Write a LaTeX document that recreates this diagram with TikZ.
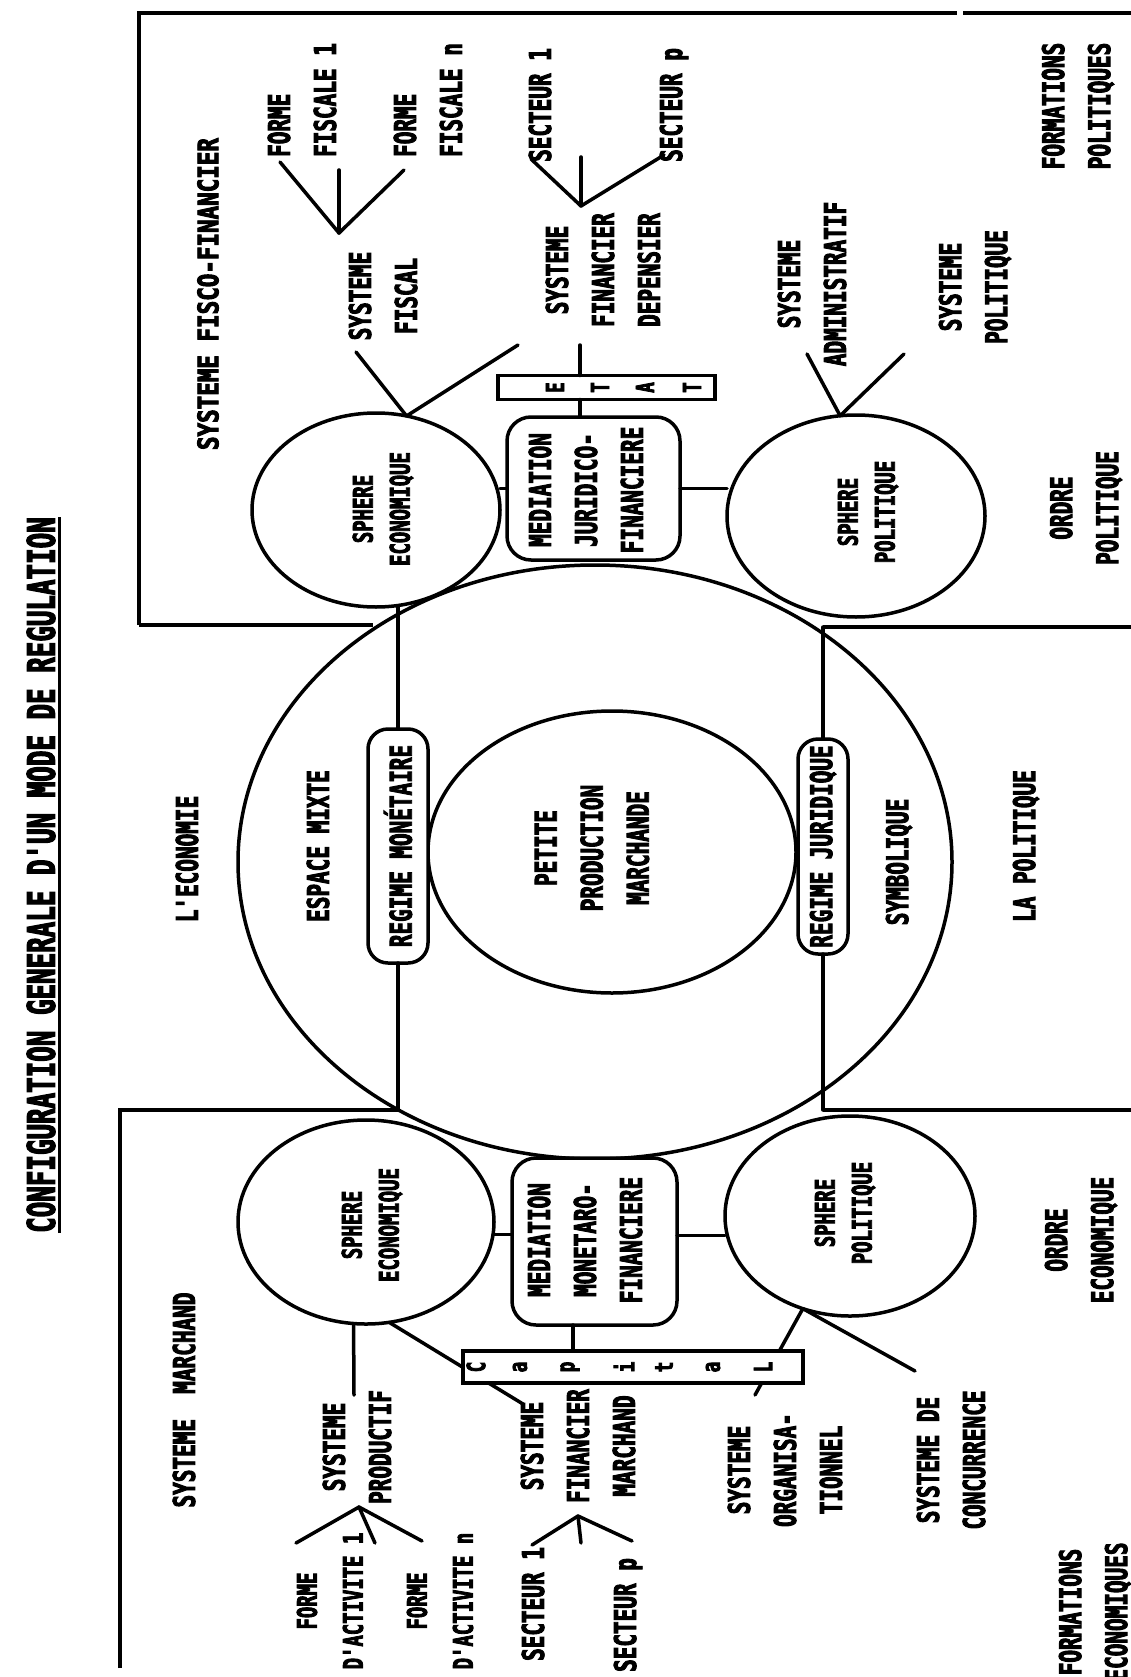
\documentclass[tikz,border=0pt]{standalone}
\usepackage{fontspec}
\usepackage{graphicx}
\usetikzlibrary{shapes.geometric}
\newfontfamily\lab[FakeStretch=0.70,FakeBold=3]{DejaVu Sans Mono}
\newfontfamily\ttl[FakeStretch=0.68,FakeBold=3]{DejaVu Sans Mono}
\begin{document}
\begin{tikzpicture}[x=1pt,y=-1pt,
  ln/.style={line width=3.5pt,line cap=round,line join=round},
  frm/.style={line width=3.6pt},
  txt/.style={rotate=90,align=center,inner sep=0pt,outer sep=0pt,font=\lab\bfseries\fontsize{30}{46}\selectfont},
  stxt/.style={txt,font=\lab\bfseries\fontsize{27}{37}\selectfont},
  ltr/.style={rotate=90,inner sep=0pt,outer sep=0pt,font=\lab\bfseries\fontsize{25}{25}\selectfont},
  sph/.style={draw,ellipse,line width=3.5pt,inner sep=0pt,outer sep=0pt},
  mbox/.style={draw,rounded corners=24pt,line width=3.5pt,fill=white,inner sep=0pt,outer sep=0pt},
  pill/.style={draw,rounded corners=20pt,line width=3.5pt,fill=white,inner sep=0pt,outer sep=0pt},
  lbox/.style={draw,line width=3.3pt,fill=white,inner sep=0pt,outer sep=0pt}]
\useasboundingbox (0,0) rectangle (1131,1677);
\fill[white] (0,0) rectangle (1131,1677);
\clip (0,0) rectangle (1131,1677);

% frames
\draw[frm] (139,625) -- (139,13) -- (957,13);
\draw[frm] (963,13) -- (1131,13);
\draw[frm] (139,625) -- (373,625);
\draw[frm] (823,627) -- (1131,627);
\draw[frm] (120,1668) -- (120,1110) -- (398,1110);
\draw[frm] (823,1110) -- (1131,1110);

% ellipses
\node[sph,minimum width=714pt,minimum height=594pt] (big) at (595,862) {};
\node[sph,minimum width=368pt,minimum height=282pt] (inner) at (612,852) {};
\node[sph,minimum width=248pt,minimum height=194pt] (seT) at (376,510) {};
\node[sph,minimum width=258pt,minimum height=202pt] (spT) at (856,516) {};
\node[sph,minimum width=256pt,minimum height=204pt] (seB) at (366,1222) {};
\node[sph,minimum width=250pt,minimum height=200pt] (spB) at (850,1216) {};

% boxes
\node[mbox,minimum width=173pt,minimum height=143pt] (mjf) at (593.5,488.5) {};
\node[mbox,minimum width=165pt,minimum height=167pt] (mmf) at (594.5,1241.5) {};
\node[pill,minimum width=60pt,minimum height=234pt] (rm) at (398,846) {};
\node[pill,minimum width=50pt,minimum height=215pt] (rj) at (823,846.5) {};
\node[lbox,minimum width=217pt,minimum height=24pt] (etat) at (606.5,387.5) {};

% connectors spheres - mediation boxes
\draw[ln] (mjf.west) -- (mjf.west -| seT.east);
\draw[ln] (mjf.east) -- (mjf.east -| spT.west);
\coordinate (mmfL) at ([yshift=7pt]mmf.west);
\coordinate (mmfR) at ([yshift=6pt]mmf.east);
\draw[ln] (mmfL) -- (mmfL -| seB.east);
\draw[ln] (mmfR) -- (mmfR -| spB.west);

% regime connectors
\coordinate (rmT) at (398,607);
\coordinate (rmB) at (398,1110);
\draw[ln] (rmT) -- (rm);
\draw[ln] (rm) -- (rmB);
\coordinate (rjT) at (823,627);
\coordinate (rjB) at (823,1110);
\draw[ln] (rjT) -- (rj);
\draw[ln] (rj) -- (rjB);

% ETAT connectors
\coordinate (depx) at (580,345);
\draw[ln] (depx) -- (depx |- etat.north);
\draw[ln] (depx |- etat.south) -- (depx |- mjf.north);

% V lines from spheres
\coordinate (vA1) at (356,352);
\coordinate (vA2) at (518,345);
\draw[ln] (vA1) -- (seT.72) -- (vA2);
\coordinate (vB1) at (807,354);
\coordinate (vB2) at (904,354);
\draw[ln] (vB1) -- (spT.99) -- (vB2);
\coordinate (vC1) at (354,1395);
\coordinate (vC2) at (523,1404);
\draw[ln] (seB.263) -- (vC1);
\draw[ln] (seB.283) -- (vC2);
\coordinate (vD1) at (755,1395);
\coordinate (vD2) at (915,1371);
\draw[ln] (vD1) -- (spB.243) -- (vD2);

% Capital box
\node[lbox,minimum width=340pt,minimum height=32pt] (cap) at (633,1367) {};
\coordinate (capx) at (573,1340);
\draw[ln] (capx |- mmf.south) -- (capx |- cap.north);

% forks
\coordinate (fk1) at (339,233);
\coordinate (fk1a) at (280,162);
\coordinate (fk1b) at (339,170);
\coordinate (fk1c) at (404,170);
\draw[ln] (fk1a) -- (fk1) -- (fk1c);
\draw[ln] (fk1) -- (fk1b);
\coordinate (fk2) at (581,206);
\coordinate (fk2a) at (531,159);
\coordinate (fk2b) at (581,157);
\coordinate (fk2c) at (664,155);
\draw[ln] (fk2a) -- (fk2) -- (fk2c);
\draw[ln] (fk2) -- (fk2b);
\coordinate (fk3) at (359,1507);
\coordinate (fk3a) at (296,1543);
\coordinate (fk3b) at (375,1543);
\coordinate (fk3c) at (422,1541);
\draw[ln] (fk3a) -- (fk3) -- (fk3c);
\draw[ln] (fk3) -- (fk3b);
\coordinate (fk4) at (578,1516);
\coordinate (fk4a) at (532,1545);
\coordinate (fk4b) at (581,1543);
\coordinate (fk4c) at (632,1541);
\draw[ln] (fk4a) -- (fk4) -- (fk4c);
\draw[ln] (fk4) -- (fk4b);

% title
\node[rotate=90,inner sep=0pt,font=\ttl\bfseries\fontsize{38}{40}\selectfont] (title) at (41,875) {CONFIGURATION GENERALE D'UN MODE DE REGULATION};
\draw[line width=3.6pt] ([xshift=4pt]title.south west) -- ([xshift=4pt]title.south east);

% headings
\node[txt] (hSFF) at (208,294) {\resizebox{312pt}{21pt}{SYSTEME FISCO-FINANCIER}};
\node[txt] (hSM) at (184,1400) {SYSTEME~~MARCHAND};

% top labels
\node[txt,align=left] (tFF1) at (302,100) {FORME\\FISCALE 1};
\node[txt,align=left] (tFFn) at (428,100) {FORME\\FISCALE n};
\node[txt] (tS1) at (540,105) {SECTEUR 1};
\node[txt] (tSp) at (674,105) {SECTEUR p};
\node[txt] (tSF) at (383,296) {SYSTEME\\FISCAL};
\node[txt] (tSFD) at (603,270) {SYSTEME\\FINANCIER\\DEPENSIER};
\node[txt] (tSA) at (812,284) {SYSTEME\\ADMINISTRATIF};
\node[txt] (tSPo) at (975,287) {SYSTEME\\POLITIQUE};
\node[txt] (tFP) at (1078,106) {FORMATIONS\\POLITIQUES};
\node[txt] (tOP) at (1086,508) {ORDRE\\POLITIQUE};

% middle labels
\node[txt] (tLE) at (187,859) {L'ECONOMIE};
\node[txt] (tEM) at (318,846) {ESPACE MIXTE};
\node[txt] (tPPM) at (592,848) {PETITE\\PRODUCTION\\MARCHANDE};
\node[txt] (tSY) at (899,862) {SYMBOLIQUE};
\node[txt] (tLP) at (1026,846) {LA POLITIQUE};
\node[txt] (tRM) at (rm) {REGIME MONÉTAIRE};
\node[txt] (tRJ) at (rj) {REGIME JURIDIQUE};

% sphere labels
\node[stxt] (lseT) at (383,509) {SPHERE\\ECONOMIQUE};
\node[stxt] (lspT) at (868,512) {SPHERE\\POLITIQUE};
\node[stxt] (lseB) at (372,1225) {SPHERE\\ECONOMIQUE};
\node[stxt] (lspB) at (845,1213) {SPHERE\\POLITIQUE};

% box labels
\node[txt] (lmjf) at (586,490) {MEDIATION\\JURIDICO-\\FINANCIERE};
\node[txt] (lmmf) at (585,1240) {MEDIATION\\MONETARO-\\FINANCIERE};

% ETAT letters
\node[ltr] (e1) at (555,387.5) {E};
\node[ltr] (e2) at (600,387.5) {T};
\node[ltr] (e3) at (645,387.5) {A};
\node[ltr] (e4) at (692,387.5) {T};

% Capital letters
\node[ltr] (c1) at (476,1367) {C};
\node[ltr] (c2) at (520,1367) {a};
\node[ltr] (c3) at (570,1367) {p};
\node[ltr] (c4) at (624,1367) {i};
\node[ltr] (c5) at (664,1367) {t};
\node[ltr] (c6) at (713,1367) {a};
\node[ltr] (c7) at (763,1367) {L};

% bottom labels
\node[txt] (tSPr) at (357,1447) {SYSTEME\\PRODUCTIF};
\node[txt,font=\lab\bfseries\fontsize{27}{46}\selectfont] (tFA1) at (330,1601) {FORME\\D'ACTIVITE 1};
\node[txt,font=\lab\bfseries\fontsize{27}{46}\selectfont] (tFAn) at (440,1601) {FORME\\D'ACTIVITE n};
\node[txt] (tS1b) at (533,1604) {SECTEUR 1};
\node[txt] (tSpb) at (628,1615) {SECTEUR p};
\node[txt] (tSFM) at (578,1446) {SYSTEME\\FINANCIER\\MARCHAND};
\node[txt] (tSO) at (785,1470) {SYSTEME\\ORGANISA-\\TIONNEL};
\node[txt] (tSC) at (951,1460) {SYSTEME DE\\CONCURRENCE};
\node[txt] (tOE) at (1081,1240) {ORDRE\\ECONOMIQUE};
\node[txt] (tFE) at (1095,1612) {FORMATIONS\\ECONOMIQUES};
\end{tikzpicture}
\end{document}
